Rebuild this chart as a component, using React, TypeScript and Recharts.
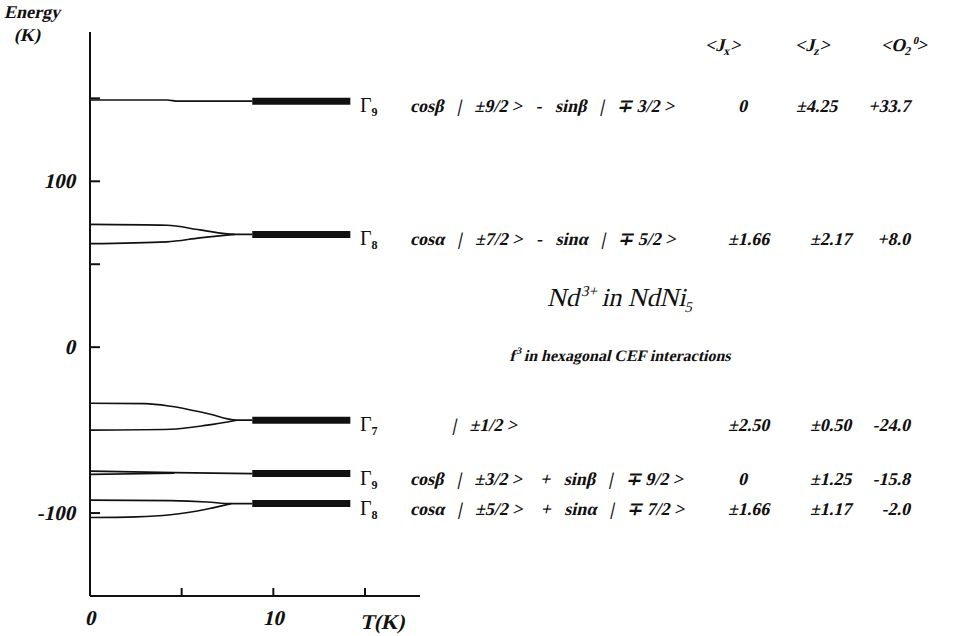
import type { ReactNode } from "react";
import { LineChart, Line, XAxis, YAxis } from "recharts";

const W = 970;
const H = 636;
const MARGIN = { top: 32, right: 550, bottom: 0, left: 30 };
const X_AXIS_H = 40;
const Y_DOMAIN: [number, number] = [-150, 190];
const X_DOMAIN: [number, number] = [0, 18];

// low-temperature branches of each level (T in K, energy in K)
const gamma9TopA = [
  { t: 0, e: 149 }, { t: 4.2, e: 149 }, { t: 4.8, e: 148.3 }, { t: 8.85, e: 148.3 },
];
const gamma8TopA = [
  { t: 0, e: 74 }, { t: 4.2, e: 73.5 }, { t: 6, e: 70.7 }, { t: 7.9, e: 68 }, { t: 8.85, e: 68 },
];
const gamma8TopB = [
  { t: 0, e: 62.4 }, { t: 4.2, e: 63.5 }, { t: 6, e: 65.9 }, { t: 7.9, e: 68 },
];
const gamma7A = [
  { t: 0, e: -33.8 }, { t: 3, e: -34 }, { t: 4.4, e: -35.6 }, { t: 6.4, e: -40 }, { t: 8, e: -44 }, { t: 8.85, e: -44 },
];
const gamma7B = [
  { t: 0, e: -50 }, { t: 4.4, e: -49.5 }, { t: 6.4, e: -47 }, { t: 8, e: -44 },
];
const gamma9LowA = [
  { t: 0, e: -74.7 }, { t: 4.6, e: -75.6 }, { t: 8.85, e: -76.2 },
];
const gamma9LowB = [
  { t: 0, e: -76.7 }, { t: 4.6, e: -76 },
];
const gamma8LowA = [
  { t: 0, e: -92.2 }, { t: 4.4, e: -92.5 }, { t: 6.4, e: -93.3 }, { t: 7.7, e: -94.3 }, { t: 8.85, e: -94.3 },
];
const gamma8LowB = [
  { t: 0, e: -102.7 }, { t: 2.5, e: -102.3 }, { t: 4.4, e: -101 }, { t: 6.4, e: -97.5 }, { t: 7.7, e: -94.3 },
];

// high-temperature (merged) levels, drawn thick
const thickT = [8.85, 14.2];
const levelEnergies = [148.3, 68, -44, -76.2, -94.3];

// table
const gammaNames = ["9", "8", "7", "9", "8"];
const states = [
  "cosβ   |   ±9/2 >   -   sinβ   |   ∓ 3/2 >",
  "cosα   |   ±7/2 >   -   sinα   |   ∓ 5/2 >",
  "|   ±1/2 >",
  "cosβ   |   ±3/2 >    +   sinβ   |   ∓ 9/2 >",
  "cosα   |   ±5/2 >    +   sinα   |   ∓ 7/2 >",
];
const jxValues = ["0", "±1.66", "±2.50", "0", "±1.66"];
const jzValues = ["±4.25", "±2.17", "±0.50", "±1.25", "±1.17"];
const o20Values = ["+33.7", "+8.0", "-24.0", "-15.8", "-2.0"];

const yTicks = [-100, 0, 50, 100, 150];
const yLabeled = [-100, 0, 100];
const xTicks = [0, 5, 10, 15];
const xLabeled = [0, 10];

const thinSeries = [gamma9TopA, gamma8TopA, gamma8TopB, gamma7A, gamma7B, gamma9LowA, gamma9LowB, gamma8LowA, gamma8LowB];

const FONT = "Liberation Serif";
const INK = "#111";

const plotH = H - MARGIN.top - MARGIN.bottom - X_AXIS_H;
const yPx = (v: number) => MARGIN.top + ((Y_DOMAIN[1] - v) / (Y_DOMAIN[1] - Y_DOMAIN[0])) * plotH;

// bold serif slanted by hand (no bold-italic serif face available)
function IText({ x, y, size = 18, anchor = "start", weight = "bold", children }: {
  x: number; y: number; size?: number; anchor?: "start" | "middle" | "end"; weight?: string; children: ReactNode;
}) {
  return (
    <g transform={`translate(${x} ${y}) skewX(-13)`}>
      <text x={0} y={0} fill={INK} fontFamily={FONT} fontWeight={weight} fontSize={size} textAnchor={anchor} xmlSpace="preserve">
        {children}
      </text>
    </g>
  );
}

const YTick = (p: any) =>
  yLabeled.includes(p.payload.value) ? (
    <IText x={p.x} y={p.y + 7} size={21} anchor="end">{String(p.payload.value)}</IText>
  ) : <g />;

const XTick = (p: any) =>
  xLabeled.includes(p.payload.value) ? (
    <IText x={p.x} y={p.y + 15} size={21} anchor="middle">{String(p.payload.value)}</IText>
  ) : <g />;

export default function App() {
  const thick = levelEnergies.map((e) => thickT.map((t) => ({ t, e })));

  return (
    <div style={{ position: "absolute", left: 0, top: 0, width: W, height: H, background: "#fff" }}>
      <LineChart width={W} height={H} margin={MARGIN}>
        <XAxis
          type="number"
          dataKey="t"
          domain={X_DOMAIN}
          ticks={xTicks}
          height={X_AXIS_H}
          tickSize={-8}
          tickMargin={22}
          tick={XTick}
          axisLine={{ stroke: INK, strokeWidth: 2 }}
          tickLine={{ stroke: INK, strokeWidth: 2 }}
        />
        <YAxis
          type="number"
          dataKey="e"
          domain={Y_DOMAIN}
          ticks={yTicks}
          width={60}
          tickSize={-10}
          tickMargin={25}
          tick={YTick}
          axisLine={{ stroke: INK, strokeWidth: 2 }}
          tickLine={{ stroke: INK, strokeWidth: 2 }}
        />
        {thinSeries.map((d, i) => (
          <Line
            key={"thin" + i}
            data={d}
            dataKey="e"
            type="monotone"
            stroke={INK}
            strokeWidth={1.6}
            dot={false}
            isAnimationActive={false}
          />
        ))}
        {thick.map((d, i) => (
          <Line
            key={"thick" + i}
            data={d}
            dataKey="e"
            type="linear"
            stroke={INK}
            strokeWidth={7}
            dot={false}
            isAnimationActive={false}
          />
        ))}
      </LineChart>

      <svg width={W} height={H} style={{ position: "absolute", left: 0, top: 0, pointerEvents: "none" }}>
        <IText x={4} y={18} size={18}>Energy</IText>
        <IText x={14} y={41} size={18}>(K)</IText>
        <IText x={360} y={629} size={21}>T(K)</IText>

        <IText x={705} y={51}>
          {"<J"}<tspan dy={4} fontSize={12}>x</tspan><tspan dy={-4}>{">"}</tspan>
        </IText>
        <IText x={795} y={51}>
          {"<J"}<tspan dy={4} fontSize={12}>z</tspan><tspan dy={-4}>{">"}</tspan>
        </IText>
        <IText x={881} y={51}>
          {"<O"}<tspan dy={4} fontSize={12}>2</tspan><tspan dy={-11} fontSize={11}>0</tspan><tspan dy={7}>{">"}</tspan>
        </IText>

        {levelEnergies.map((e, i) => {
          const y = yPx(e) + 11;
          return (
            <g key={"row" + i}>
              <text x={360} y={y} fill={INK} fontFamily={FONT} fontSize={20}>
                Γ<tspan dy={4} fontSize={12} fontWeight="bold">{gammaNames[i]}</tspan>
              </text>
              <IText x={i === 2 ? 452 : 410} y={y}>{states[i]}</IText>
              <IText x={i === 0 || i === 3 ? 738 : 728} y={y}>{jxValues[i]}</IText>
              <IText x={i === 0 ? 796 : 810} y={y}>{jzValues[i]}</IText>
              <IText x={910} y={y} anchor="end">{o20Values[i]}</IText>
            </g>
          );
        })}

        <IText x={620} y={306} size={26} weight="normal" anchor="middle">
          Nd<tspan dy={-10} fontSize={15}>3+</tspan><tspan dy={10}> in NdNi</tspan><tspan dy={6} fontSize={15}>5</tspan>
        </IText>
        <IText x={620} y={361} size={16} anchor="middle">
          f<tspan dy={-7} fontSize={10}>3</tspan><tspan dy={7}> in hexagonal CEF interactions</tspan>
        </IText>
      </svg>
    </div>
  );
}
